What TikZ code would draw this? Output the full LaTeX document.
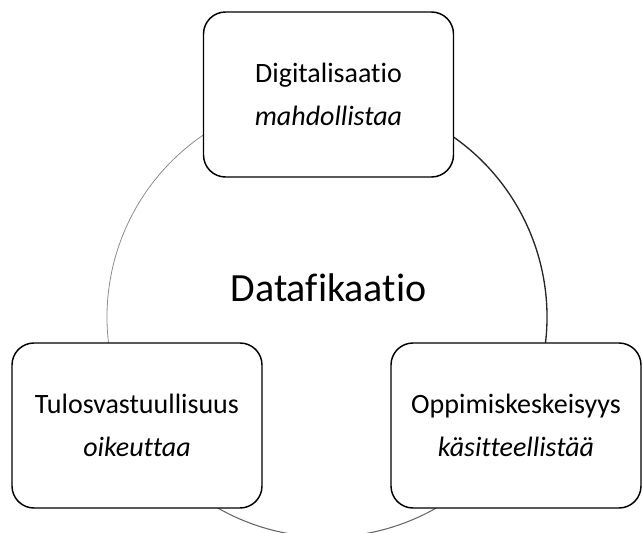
\documentclass[tikz,border=0pt]{standalone}
\usepackage{fontspec}
\setmainfont{Carlito}[Ligatures={NoCommon}]
\usetikzlibrary{positioning}

\tikzset{
	stagebox/.style={draw, line width=1.1pt, rounded corners=16.5pt, fill=white,
		minimum width=187.5pt, minimum height=123.75pt, align=center,
		font=\fontsize{21}{32}\selectfont},
	ringdark/.style={line width=1pt, black!85},
	ringpale/.style={line width=0.6pt, black!45},
	ringmid/.style={line width=0.8pt, black!60}
}

\begin{document}
\begin{tikzpicture}[x=0.75pt,y=0.75pt]
	\useasboundingbox (0,0) rectangle (642,532);
	\coordinate (hub) at (327,215);
	% the ring, split in three
	\draw[ringdark] (hub) ++(60:220) arc[start angle=60, end angle=-15, radius=220];
	\draw[ringpale] (hub) ++(120:220) arc[start angle=120, end angle=195, radius=220];
	\draw[ringmid] (hub) ++(-130:220) arc[start angle=-130, end angle=-50, radius=220];
	% the three boxes
	\node[stagebox] (digi) at (328.5,437.5) {Digitalisaatio\\\textit{mahdollistaa}};
	\node[stagebox] (tulos) at (137,106.5) {Tulosvastuullisuus\\\textit{oikeuttaa}};
	\node[stagebox] (oppi) at (516,106.5) {Oppimiskeskeisyys\\\textit{käsitteellistää}};
	\node[anchor=base, font=\fontsize{30}{34}\selectfont] (data) at (328.5,230) {Datafikaatio};
\end{tikzpicture}
\end{document}
